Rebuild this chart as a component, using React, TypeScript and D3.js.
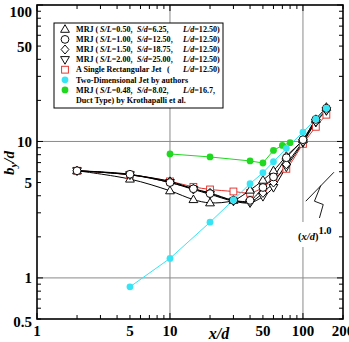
import * as d3 from "d3"

// x/d stations
const xMRJ = [2, 5, 10, 15, 20, 30, 40, 50, 60, 75, 100, 125, 150]
const ySL050 = [6.1, 5.3, 4.35, 3.75, 3.55, 3.7, 4.4, 5.2, 6.1, 7.8, 10.3, 14.5, 17.8]
const ySL100 = [6.1, 5.75, 5.0, 4.5, 4.15, 3.7, 3.7, 4.6, 5.5, 7.6, 10.3, 14.5, 17.5]
const ySL150 = [6.1, 5.7, 5.1, 4.5, 4.2, 3.7, 3.6, 4.2, 5.0, 6.8, 10.0, 14.0, 17.0]
const ySL200 = [6.1, 5.7, 5.0, 4.45, 4.1, 3.65, 3.55, 3.95, 4.6, 6.5, 9.8, 13.8, 16.8]
const ySingle = [6.1, 5.7, 5.1, 4.65, 4.45, 4.3, 4.2, 4.6, 5.35, 6.3, 9.6, 12.8, 15.7]

const xTwoD = [5, 10, 20, 30, 40, 50, 60, 75, 100, 125, 150]
const yTwoD = [0.86, 1.39, 2.56, 3.73, 4.9, 5.9, 7.1, 8.9, 11.7, 14.6, 17.5]

const xKroth = [10, 20, 40, 50, 60, 70, 80]
const yKroth = [8.1, 7.7, 7.2, 6.95, 8.6, 9.35, 9.8]

const xTickLabels = [1, 5, 10, 50, 100, 200]
const yTickLabels = [0.5, 1, 5, 10, 50, 100]
const xGrid = [10, 100]
const yGrid = [1, 10]

// slope indicator (x/d)^1.0, in data units
const slopeLine: [number, number][] = [[105, 3.65], [171, 5.95]]
const slopeZig: [number, number][] = [[136, 4.75], [122, 3.65], [142, 3.45], [133, 2.75]]

const W = 349
const H = 342
const FONT = "'Liberation Serif', 'Times New Roman', serif"

const x = d3.scaleLog().domain([1, 200]).range([37, 343])
const y = d3.scaleLog().domain([0.5, 100]).range([319, 5])

type Shape = "tri" | "circ" | "diam" | "itri" | "sq" | "dot"

function Marker({ cx, cy, shape, color }: { cx: number; cy: number; shape: Shape; color?: string }) {
  const sw = 0.95
  if (shape === "circ") return <circle cx={cx} cy={cy} r={3.9} fill="white" stroke="black" strokeWidth={sw} />
  if (shape === "dot") return <circle cx={cx} cy={cy} r={3.4} fill={color} stroke="none" />
  if (shape === "sq")
    return <rect x={cx - 3.4} y={cy - 3.4} width={6.8} height={6.8} fill="white" stroke={color} strokeWidth={sw} />
  let p = ""
  if (shape === "tri") p = `M${cx},${cy - 4.6}L${cx + 4.4},${cy + 3}L${cx - 4.4},${cy + 3}Z`
  if (shape === "itri") p = `M${cx},${cy + 4.6}L${cx + 4.4},${cy - 3}L${cx - 4.4},${cy - 3}Z`
  if (shape === "diam") p = `M${cx},${cy - 4.5}L${cx + 3.9},${cy}L${cx},${cy + 4.5}L${cx - 3.9},${cy}Z`
  return <path d={p} fill="white" stroke="black" strokeWidth={sw} />
}

const smooth = d3
  .line<[number, number]>()
  .x((d) => x(d[0]))
  .y((d) => y(d[1]))
  .curve(d3.curveCatmullRom)
const straight = d3
  .line<[number, number]>()
  .x((d) => x(d[0]))
  .y((d) => y(d[1]))

const zip = (a: number[], b: number[]) => a.map((v, i) => [v, b[i]] as [number, number])

const series = [
  { xs: xMRJ, ys: ySingle, shape: "sq" as Shape, color: "#e0302a", line: smooth },
  { xs: xMRJ, ys: ySL050, shape: "tri" as Shape, color: "black", line: smooth },
  { xs: xMRJ, ys: ySL200, shape: "itri" as Shape, color: "black", line: smooth },
  { xs: xMRJ, ys: ySL150, shape: "diam" as Shape, color: "black", line: smooth },
  { xs: xMRJ, ys: ySL100, shape: "circ" as Shape, color: "black", line: smooth },
  { xs: xKroth, ys: yKroth, shape: "dot" as Shape, color: "#1fd81f", line: straight },
  { xs: xTwoD, ys: yTwoD, shape: "dot" as Shape, color: "#38e4f4", line: straight },
]

const legendShapes: [Shape, string][] = [
  ["tri", "black"],
  ["circ", "black"],
  ["diam", "black"],
  ["itri", "black"],
  ["sq", "#e0302a"],
  ["dot", "#38e4f4"],
  ["dot", "#1fd81f"],
]

export default function App() {
  const xTicks = x.ticks()
  const yTicks = y.ticks()
  const [x0, x1] = x.range()
  const [y0, y1] = y.range()

  const legendX = 54
  const legendY = 23
  const rowH = 10.1
  const symX = 65
  const txtX = 76
  const fs = 8.1

  const mrjRow = (sl: string, sd: string, ld: string, i: number) => (
    <text key={"t" + i} y={legendY + 9 + i * rowH} fontSize={fs} fontWeight="bold" fontFamily={FONT}>
      <tspan x={txtX}>MRJ (</tspan>
      <tspan x={txtX + 24} fontStyle="italic">S/L</tspan>
      <tspan>{"=" + sl + ","}</tspan>
      <tspan x={txtX + 61} fontStyle="italic">S/d</tspan>
      <tspan>{"=" + sd + ","}</tspan>
      <tspan x={txtX + 107} fontStyle="italic">L/d</tspan>
      <tspan>{"=" + ld}</tspan>
    </text>
  )

  const yLabelBase = (v: number) => (v === 100 ? y(v) + 12 : v === 0.5 ? y(v) + 8 : y(v) + 5.5)

  return (
    <svg width={W} height={H} style={{ position: "absolute", left: 0, top: 0, background: "white" }}>
      {/* grid */}
      {xGrid.map((v) => (
        <line key={"gx" + v} x1={x(v)} x2={x(v)} y1={y0} y2={y1} stroke="#8a8a8a" strokeWidth={1} />
      ))}
      {yGrid.map((v) => (
        <line key={"gy" + v} x1={x0} x2={x1} y1={y(v)} y2={y(v)} stroke="#8a8a8a" strokeWidth={1} />
      ))}

      {/* ticks, inward on all sides */}
      {xTicks.map((v) => {
        const len = [1, 10, 100].includes(v) ? 6 : 4
        return (
          <g key={"xt" + v} stroke="black" strokeWidth={1}>
            <line x1={x(v)} x2={x(v)} y1={y0} y2={y0 - len} />
            <line x1={x(v)} x2={x(v)} y1={y1} y2={y1 + len} />
          </g>
        )
      })}
      {yTicks.map((v) => {
        const len = [1, 10, 100].includes(v) ? 6 : 4
        return (
          <g key={"yt" + v} stroke="black" strokeWidth={1}>
            <line x1={x0} x2={x0 + len} y1={y(v)} y2={y(v)} />
            <line x1={x1} x2={x1 - len} y1={y(v)} y2={y(v)} />
          </g>
        )
      })}

      {/* slope indicator */}
      <path d={straight(slopeLine) ?? ""} fill="none" stroke="black" strokeWidth={0.9} />
      <path d={straight(slopeZig) ?? ""} fill="none" stroke="black" strokeWidth={0.9} />
      <rect x={296} y={222} width={40} height={25} fill="white" />
      <text x={298} y={240} fontSize={10.5} fontWeight="bold" fontFamily={FONT}>
        (<tspan fontStyle="italic">x/d</tspan>)
        <tspan dy={-6} fontSize={10.5}>1.0</tspan>
      </text>

      {/* series */}
      {series.map((s, i) => (
        <path
          key={"l" + i}
          d={s.line(zip(s.xs, s.ys)) ?? ""}
          fill="none"
          stroke={s.color}
          strokeWidth={1}
        />
      ))}
      {series.map((s, i) =>
        s.xs.map((xv, j) => (
          <Marker key={"m" + i + "-" + j} cx={x(xv)} cy={y(s.ys[j])} shape={s.shape} color={s.color} />
        )),
      )}

      {/* frame */}
      <rect x={x0} y={y1} width={x1 - x0} height={y0 - y1} fill="none" stroke="black" strokeWidth={1.6} />

      {/* tick labels */}
      {xTickLabels.map((v) => (
        <text
          key={"xl" + v}
          x={x(v)}
          y={336}
          textAnchor="middle"
          fontSize={15}
          fontWeight="bold"
          fontFamily={FONT}
        >
          {v}
        </text>
      ))}
      {yTickLabels.map((v) => (
        <text
          key={"yl" + v}
          x={32}
          y={yLabelBase(v)}
          textAnchor="end"
          fontSize={15}
          fontWeight="bold"
          fontFamily={FONT}
        >
          {v}
        </text>
      ))}

      {/* axis titles */}
      <text x={219} y={339} textAnchor="middle" fontSize={16} fontWeight="bold" fontStyle="italic" fontFamily={FONT}>
        x/d
      </text>
      <text
        transform="translate(14,163) rotate(-90)"
        textAnchor="middle"
        fontSize={15}
        fontWeight="bold"
        fontStyle="italic"
        fontFamily={FONT}
      >
        b<tspan fontSize={11} dy={3}>y</tspan>
        <tspan dy={-3}>/d</tspan>
      </text>

      {/* legend */}
      <rect x={legendX} y={legendY} width={169} height={85} fill="white" stroke="black" strokeWidth={1} />
      {legendShapes.map(([sh, c], i) => (
        <Marker key={"lg" + i} cx={symX} cy={legendY + 6.3 + i * rowH} shape={sh} color={c} />
      ))}
      {mrjRow("0.50", "6.25", "12.50)", 0)}
      {mrjRow("1.00", "12.50", "12.50)", 1)}
      {mrjRow("1.50", "18.75", "12.50)", 2)}
      {mrjRow("2.00", "25.00", "12.50)", 3)}
      <text y={legendY + 9 + 4 * rowH} fontSize={fs} fontWeight="bold" fontFamily={FONT}>
        <tspan x={txtX}>A Single Rectangular Jet</tspan>
        <tspan x={txtX + 91}>(</tspan>
        <tspan x={txtX + 107} fontStyle="italic">L/d</tspan>
        <tspan>=12.50)</tspan>
      </text>
      <text x={txtX} y={legendY + 9 + 5 * rowH} fontSize={fs} fontWeight="bold" fontFamily={FONT}>
        Two-Dimensional Jet by authors
      </text>
      <text y={legendY + 9 + 6 * rowH} fontSize={fs} fontWeight="bold" fontFamily={FONT}>
        <tspan x={txtX}>MRJ (</tspan>
        <tspan x={txtX + 24} fontStyle="italic">S/L</tspan>
        <tspan>=0.48,</tspan>
        <tspan x={txtX + 61} fontStyle="italic">S/d</tspan>
        <tspan>=8.02,</tspan>
        <tspan x={txtX + 107} fontStyle="italic">L/d</tspan>
        <tspan>=16.7,</tspan>
      </text>
      <text x={txtX} y={legendY + 9 + 7 * rowH} fontSize={fs} fontWeight="bold" fontFamily={FONT}>
        Duct Type) by Krothapalli et al.
      </text>
    </svg>
  )
}
